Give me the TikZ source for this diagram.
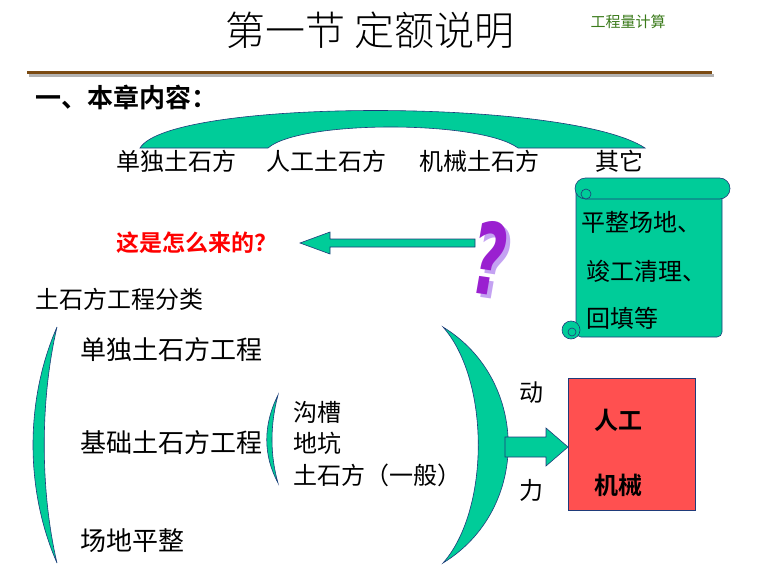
\documentclass[tikz,border=0pt]{standalone}
\usepackage{fontspec}
\newfontfamily\cjk{Noto Sans CJK SC}
\newfontfamily\cjkl{Noto Sans CJK SC Light}
\newfontfamily\cjkb{Noto Sans CJK SC Bold}
\newfontfamily\qfont{DejaVu Sans}
\definecolor{teal1}{HTML}{00CC99}
\definecolor{edge}{HTML}{1F3B7A}
\definecolor{redbox}{HTML}{FF5050}
\definecolor{brown1}{HTML}{7A4A12}
\definecolor{green1}{HTML}{3A7A1A}
\definecolor{purp}{HTML}{9A20D0}
\tikzset{shp/.style={fill=teal1,draw=edge,line width=0.6pt},
 txt/.style={font=\cjk\fontsize{24}{24}\selectfont,anchor=west,inner sep=0pt}}
\begin{document}
\begin{tikzpicture}[x=1pt,y=-1pt]
\useasboundingbox (0,0) rectangle (760,583);
\node[font=\cjkl\fontsize{40}{40}\selectfont] (title) at (370,30) {第一节 定额说明};
\node[font=\cjk\fontsize{15}{15}\selectfont,text=green1] (sub) at (628,22) {工程量计算};
\draw[gray!60,line width=3pt] (29,76) -- (714,76);
\draw[brown1,line width=3pt] (27,73) -- (712,73);
\node[txt,font=\cjkb\fontsize{26}{26}\selectfont] (h1) at (35,97) {一、本章内容：};
% arch
\path[shp] (140,148) .. controls (170,98) and (570,98) .. (645,148) -- (518,148) .. controls (480,120) and (300,120) .. (268,148) -- cycle;
\node[txt] (a1) at (116,161) {单独土石方};
\node[txt] (a2) at (266,161) {人工土石方};
\node[txt] (a3) at (419,161) {机械土石方};
\node[txt] (a4) at (595,161) {其它};
% scroll
\path[shp,rounded corners=5pt] (576,188) -- (722,188) -- (722,337) -- (576,337) -- cycle;
\path[shp,rounded corners=10.5pt] (575,178) rectangle (730,199);
\path[shp] (586,194) circle[radius=5];
\path[shp] (571,330) circle[radius=9];
\path[shp] (572,332) circle[radius=4];
\node[txt] (s1) at (581,222) {平整场地、};
\node[txt] (s2) at (586,271) {竣工清理、};
\node[txt] (s3) at (586,318) {回填等};
% question
\node[text=red,font=\cjkb\fontsize{23}{23}\selectfont] (q) at (197,243) {这是怎么来的？};
\node[font=\qfont\bfseries\itshape\fontsize{100}{100}\selectfont,text=blue!30!purp!40,xscale=0.6,rotate=-5] (qs) at (494,262) {?};
\node[font=\qfont\bfseries\itshape\fontsize{100}{100}\selectfont,text=purp,xscale=0.6,rotate=-5] (qm) at (490,258) {?};
\path[shp] (475,239) -- (330,239) -- (330,232) -- (300,243) -- (330,254) -- (330,247) -- (475,247) -- cycle;
% classification
\node[txt] (c0) at (35,299) {土石方工程分类};
\path[shp] (57,327) .. controls (25,400) and (25,490) .. (57,563) .. controls (40,490) and (40,400) .. (57,327) -- cycle;
\node[txt,font=\cjk\fontsize{26}{26}\selectfont] (c1) at (80,350) {单独土石方工程};
\node[txt,font=\cjk\fontsize{26}{26}\selectfont] (c2) at (80,443) {基础土石方工程};
\node[txt,font=\cjk\fontsize{26}{26}\selectfont] (c3) at (80,541) {场地平整};
\path[shp] (278,395) .. controls (263,425) and (263,455) .. (278,483) .. controls (270,455) and (270,425) .. (278,395) -- cycle;
\node[txt] (d1) at (293,412) {沟槽};
\node[txt] (d2) at (293,443) {地坑};
\node[txt] (d3) at (293,475) {土石方（一般）};
\path[shp] (443,327) .. controls (530,380) and (530,510) .. (443,563) .. controls (490,510) and (490,380) .. (443,327) -- cycle;
\node[txt] (p1) at (519,393) {动};
\node[txt] (p2) at (519,490) {力};
\path[shp] (505,437) -- (546,437) -- (546,428) -- (568,447) -- (546,466) -- (546,457) -- (505,457) -- cycle;
\node[fill=redbox,draw=edge,line width=0.6pt,minimum width=127pt,minimum height=132pt,anchor=north west] (box) at (568,378) {};
\node[font=\cjkb\fontsize{24}{24}\selectfont] (b1) at (618,420) {人工};
\node[font=\cjkb\fontsize{24}{24}\selectfont] (b2) at (618,485) {机械};
\end{tikzpicture}
\end{document}
